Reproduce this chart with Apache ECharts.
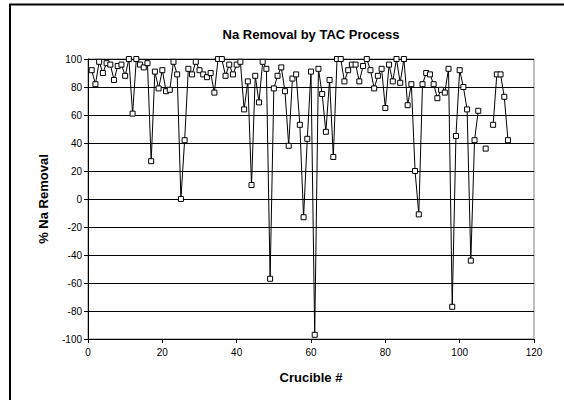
<!DOCTYPE html>
<html>
<head>
<meta charset="utf-8">
<script src="https://cdn.jsdelivr.net/npm/echarts@6/dist/echarts.min.js"></script>
<style>
html,body{margin:0;padding:0;background:#fff;}
#chart{width:564px;height:400px;}
</style>
</head>
<body>
<div id="chart"></div>
<script>
// Crucible numbers (x) and % Na removal (y); null = no data
const crucibles = [];
for (let i = 1; i <= 113; i++) crucibles.push(i);
const naRemoval = [
  92, 82, 98, 90, 97, 96, 85, 95, 96, 88,
  100, 61, 100, 96, 94, 97, 27, 91, 79, 92,
  77, 78, 98, 89, 0, 42, 93, 89, 98, 92,
  89, 87, 90, 76, 100, 100, 88, 96, 89, 96,
  98, 64, 84, 10, 88, 69, 98, 93, -57, 79,
  88, 94, 77, 38, 86, 89, 53, -13, 43, 91,
  -97, 93, 75, 48, 85, 30, 100, 100, 84, 92,
  96, 96, 84, 95, 100, 92, 79, 88, 93, 65,
  96, 84, 100, 83, 100, 67, 82, 20, -11, 82,
  90, 89, 82, 72, 78, 76, 93, -77, 45, 92,
  80, 64, -44, 42, 63, null, 36, null, 53, 89,
  89, 73, 42
];
const xTicks = [0, 20, 40, 60, 80, 100, 120];
const yTicks = [-100, -80, -60, -40, -20, 0, 20, 40, 60, 80, 100];
const titleText = 'Na Removal by TAC Process';
const xTitle = 'Crucible #';
const yTitle = '% Na Removal';

const points = crucibles.map((c, i) => [c, naRemoval[i]]);
const FONT = 'Arial, "Liberation Sans", sans-serif';

const chart = echarts.init(document.getElementById('chart'), null, {renderer: 'svg'});
chart.setOption({
  animation: false,
  backgroundColor: '#fff',
  grid: {
    left: 88, right: 30, top: 59, bottom: 61,
    show: true, borderColor: '#808080', borderWidth: 1,
    backgroundColor: 'transparent'
  },
  xAxis: {
    type: 'value',
    min: xTicks[0], max: xTicks[xTicks.length - 1], interval: 20,
    axisLine: {show: true, onZero: false, lineStyle: {color: '#000', width: 1}},
    axisTick: {show: true, inside: false, length: 4, lineStyle: {color: '#000'}},
    splitLine: {show: false},
    axisLabel: {color: '#000', fontSize: 10, fontFamily: FONT, margin: 8}
  },
  yAxis: {
    type: 'value',
    min: yTicks[0], max: yTicks[yTicks.length - 1], interval: 20,
    axisLine: {show: true, lineStyle: {color: '#000', width: 1}},
    axisTick: {show: true, inside: false, length: 4, lineStyle: {color: '#000'}},
    splitLine: {show: true, lineStyle: {color: '#000', width: 1}},
    axisLabel: {color: '#000', fontSize: 10, fontFamily: FONT, margin: 6}
  },
  series: [{
    type: 'line',
    data: points,
    connectNulls: false,
    showSymbol: true,
    showAllSymbol: true,
    symbol: 'rect',
    symbolSize: 5,
    lineStyle: {color: '#000', width: 1},
    itemStyle: {color: '#fff', borderColor: '#000', borderWidth: 1},
    emphasis: {disabled: true}
  }],
  graphic: [
    {type: 'rect', shape: {x: 10, y: 4.5, width: 700, height: 600},
     style: {fill: 'none', stroke: '#000', lineWidth: 2}, silent: true, z: 100},
    {type: 'text', x: 311, y: 34,
     style: {text: titleText, font: 'bold 13px ' + FONT, fill: '#000', textAlign: 'center', textVerticalAlign: 'middle'}},
    {type: 'text', x: 311, y: 377,
     style: {text: xTitle, font: 'bold 13px ' + FONT, fill: '#000', textAlign: 'center', textVerticalAlign: 'middle'}},
    {type: 'text', x: 43, y: 199, rotation: Math.PI / 2,
     style: {text: yTitle, font: 'bold 13px ' + FONT, fill: '#000', textAlign: 'center', textVerticalAlign: 'middle'}}
  ]
});
</script>
</body>
</html>
